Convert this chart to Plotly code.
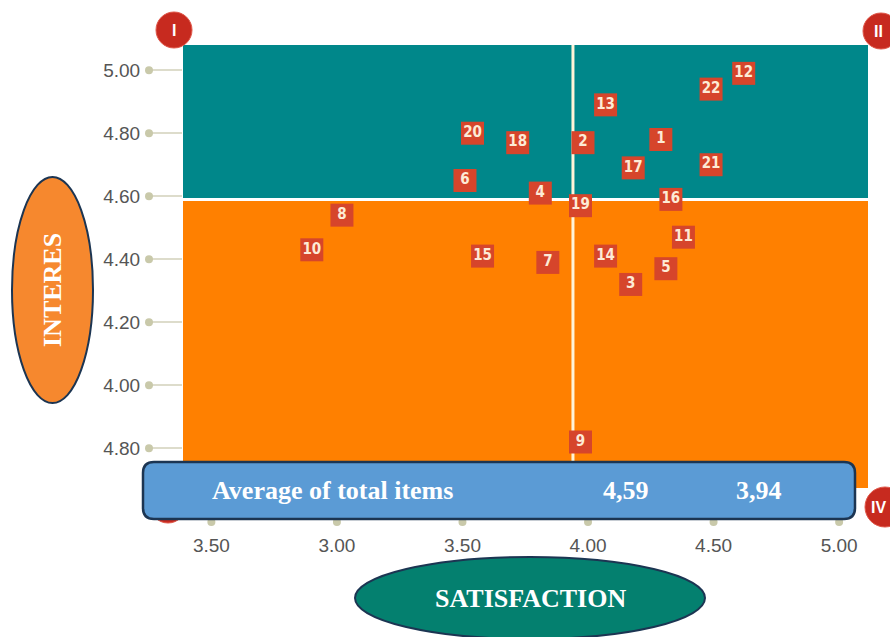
import plotly.graph_objects as go

# ---- data -------------------------------------------------------------
items = [str(i) for i in range(1, 23)]
satisfaction = [4.29, 3.98, 4.17, 3.81, 4.31, 3.51, 3.84, 3.02, 3.97, 2.90, 4.38,
                4.62, 4.07, 4.07, 3.58, 4.33, 4.18, 3.72, 3.97, 3.54, 4.49, 4.49]
interest = [4.78, 4.77, 4.32, 4.61, 4.37, 4.65, 4.39, 4.54, 3.82, 4.43, 4.47,
            4.99, 4.89, 4.41, 4.41, 4.59, 4.69, 4.77, 4.57, 4.80, 4.70, 4.94]

avg_interest = 4.59
avg_satisfaction = 3.94

x_tickvals = [2.5, 3.0, 3.5, 4.0, 4.5, 5.0]
x_ticktext = ["3.50", "3.00", "3.50", "4.00", "4.50", "5.00"]
y_tickvals = [5.0, 4.8, 4.6, 4.4, 4.2, 4.0, 3.8]
y_ticktext = ["5.00", "4.80", "4.60", "4.40", "4.20", "4.00", "4.80"]

avg_label = "Average of total items"
x_title = "SATISFACTION"
y_title = "INTERES"

# ---- layout geometry --------------------------------------------------
W, H = 890, 637
L, R, T, B = 183, 22, 45, 149
X_RANGE = [2.387, 5.115]
Y_RANGE = [3.674, 5.080]

TEAL = "#00878a"
ORANGE = "#ff8000"
MARK = "#d6452b"
NAVY = "#1c3552"
SERIF = "Liberation Serif, Times New Roman, serif"
SANS = "Liberation Sans, Arial, sans-serif"
NARROW = "Liberation Sans Narrow, DejaVu Sans Condensed, Roboto, sans-serif"


def px(x):
    """pixel column -> paper x"""
    return (x - L) / (W - L - R)


def py(y):
    """pixel row -> paper y"""
    return (H - B - y) / (H - T - B)


def rounded_rect(x0, y0, x1, y1, r):
    """rounded rectangle path (pixel box) in paper coordinates"""
    pts = [
        ("M", (x0 + r, y0)), ("L", (x1 - r, y0)), ("Q", (x1, y0), (x1, y0 + r)),
        ("L", (x1, y1 - r)), ("Q", (x1, y1), (x1 - r, y1)),
        ("L", (x0 + r, y1)), ("Q", (x0, y1), (x0, y1 - r)),
        ("L", (x0, y0 + r)), ("Q", (x0, y0), (x0 + r, y0)),
    ]
    out = []
    for cmd, *coords in pts:
        out.append(cmd + " ".join(f"{px(a):.5f},{py(b):.5f}" for a, b in coords))
    return " ".join(out) + " Z"


fig = go.Figure()

fig.add_trace(go.Scatter(
    x=satisfaction, y=interest, text=items,
    mode="markers+text",
    marker=dict(symbol="square", size=23, color=MARK, line=dict(width=0)),
    textposition="middle center",
    textfont=dict(family=NARROW, size=15, color="#fdebd6", weight=700),
    cliponaxis=False, hoverinfo="skip",
))

shapes = []
# quadrant backgrounds
shapes.append(dict(type="rect", xref="paper", yref="y", x0=0, x1=1,
                   y0=avg_interest, y1=Y_RANGE[1], fillcolor=TEAL,
                   line=dict(width=0), layer="below"))
shapes.append(dict(type="rect", xref="paper", yref="y", x0=0, x1=1,
                   y0=Y_RANGE[0], y1=avg_interest, fillcolor=ORANGE,
                   line=dict(width=0), layer="below"))
# average dividers
shapes.append(dict(type="line", xref="paper", yref="y", x0=0, x1=1,
                   y0=avg_interest, y1=avg_interest,
                   line=dict(color="white", width=3), layer="below"))
shapes.append(dict(type="line", xref="x", yref="paper", x0=avg_satisfaction,
                   x1=avg_satisfaction, y0=0, y1=1,
                   line=dict(color="#fff4d8", width=3), layer="below"))

# tick dots
for v in y_tickvals:
    shapes.append(dict(type="circle", xref="paper", yref="y",
                       xsizemode="pixel", ysizemode="pixel",
                       xanchor=0, yanchor=v, x0=-38, x1=-30, y0=-4, y1=4,
                       fillcolor="#c9c9aa", line=dict(width=0)))
for v in x_tickvals:
    shapes.append(dict(type="circle", xref="x", yref="paper",
                       xsizemode="pixel", ysizemode="pixel",
                       xanchor=v, yanchor=0, x0=-4, x1=4, y0=-38, y1=-30,
                       fillcolor="#c9c9aa", line=dict(width=0)))

# quadrant badges: name, circle centre, radius, label centre x
badges = [("I", 174, 30, 18, 174), ("II", 881, 31, 18, 879),
          ("III", 168, 505, 18, 168), ("IV", 885, 507, 20, 878)]
for name, cx, cy, r, tx in badges:
    shapes.append(dict(type="circle", xref="paper", yref="paper",
                       x0=px(cx - r), x1=px(cx + r), y0=py(cy + r), y1=py(cy - r),
                       fillcolor="#c72a1f", line=dict(color="#e0584a", width=1)))

# average box
shapes.append(dict(type="path", xref="paper", yref="paper",
                   path=rounded_rect(143, 462, 855, 519, 11),
                   fillcolor="#5b9bd5", line=dict(color=NAVY, width=2.5)))
# axis title ellipses
shapes.append(dict(type="circle", xref="paper", yref="paper",
                   x0=px(12), x1=px(93), y0=py(403), y1=py(177),
                   fillcolor="#f6882e", line=dict(color=NAVY, width=2)))
shapes.append(dict(type="circle", xref="paper", yref="paper",
                   x0=px(355), x1=px(705), y0=py(639), y1=py(557),
                   fillcolor="#04806f", line=dict(color=NAVY, width=2)))

annotations = []
for name, cx, cy, r, tx in badges:
    if name == "III":
        continue  # covered by the average box
    annotations.append(dict(text=name, x=px(tx), y=py(cy), xref="paper", yref="paper",
                            showarrow=False, xanchor="center", yanchor="middle",
                            font=dict(family=SANS, size=16, color="white", weight=700)))

serif_white = dict(family=SERIF, size=26, color="white", weight=700)
annotations.append(dict(text=avg_label, x=px(332), y=py(491), xref="paper", yref="paper",
                        showarrow=False, xanchor="center", yanchor="middle", font=serif_white))
annotations.append(dict(text=f"{avg_interest:.2f}".replace(".", ","), x=px(626), y=py(491),
                        xref="paper", yref="paper", showarrow=False,
                        xanchor="center", yanchor="middle", font=serif_white))
annotations.append(dict(text=f"{avg_satisfaction:.2f}".replace(".", ","), x=px(759), y=py(491),
                        xref="paper", yref="paper", showarrow=False,
                        xanchor="center", yanchor="middle", font=serif_white))
annotations.append(dict(text=x_title, x=px(530), y=py(598), xref="paper", yref="paper",
                        showarrow=False, xanchor="center", yanchor="middle", font=serif_white))
annotations.append(dict(text=y_title, x=px(52), y=py(290), xref="paper", yref="paper",
                        showarrow=False, xanchor="center", yanchor="middle", textangle=-90,
                        font=serif_white))

tick_font = dict(family=SANS, size=19, color="#555555")
fig.update_xaxes(range=X_RANGE, tickvals=x_tickvals, ticktext=x_ticktext,
                 showgrid=False, zeroline=False, showline=False,
                 ticks="outside", ticklen=34, tickwidth=2, tickcolor="#dddccb",
                 ticklabelstandoff=6, tickfont=tick_font)
fig.update_yaxes(range=Y_RANGE, tickvals=y_tickvals, ticktext=y_ticktext,
                 showgrid=False, zeroline=False, showline=False,
                 ticks="outside", ticklen=34, tickwidth=2, tickcolor="#dddccb",
                 ticklabelstandoff=4, tickfont=tick_font)

fig.update_layout(width=W, height=H, margin=dict(l=L, r=R, t=T, b=B),
                  paper_bgcolor="white", plot_bgcolor="white", showlegend=False,
                  shapes=shapes, annotations=annotations)

fig.write_html("out.html")
